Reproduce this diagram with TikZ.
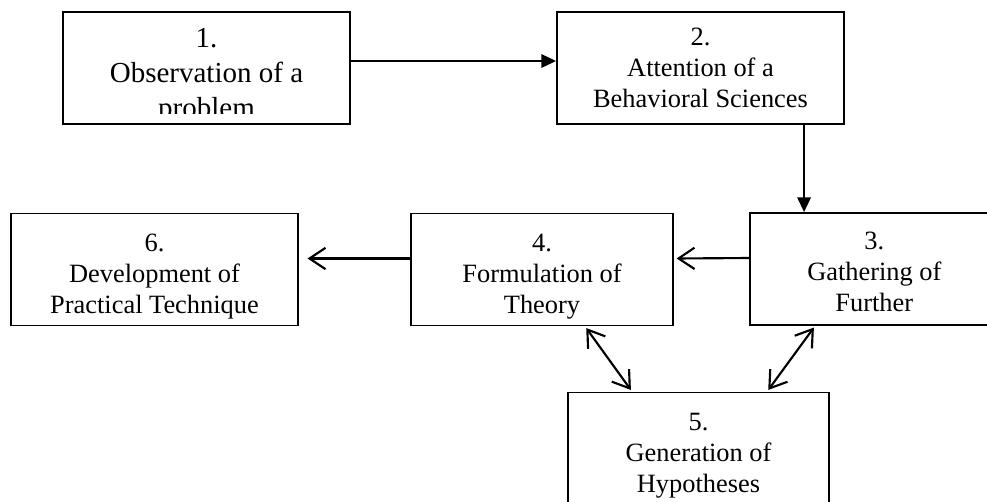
\documentclass[tikz,border=0pt]{standalone}
\usepackage{fontspec}
\setmainfont{Liberation Serif}
\usetikzlibrary{arrows.meta}

\begin{document}
\begin{tikzpicture}[x=0.75pt, y=-0.75pt,
    box/.style={draw, line width=1.4pt, minimum width=215.25pt, minimum height=84pt, inner sep=0pt},
    txt/.style={anchor=north, align=center, inner sep=0pt, font=\fontsize{19.8}{23.25}\selectfont},
    filledarrow/.style={line width=1.6pt, -{Triangle[length=11pt, width=10pt]}},
    openarrow/.style={line width=1.6pt, -{Straight Barb[length=12pt, width=16pt]}},
    twoarrow/.style={line width=1.6pt, {Straight Barb[length=12pt, width=16pt]}-{Straight Barb[length=12pt, width=16pt]}}]

    \clip (0,0) rectangle (987,501);

    \node[box] (b1) at (206.5,68) {};
    \node[box] (b2) at (700.5,68) {};
    \node[box, minimum width=196.5pt] (b3) at (881,269) {};
    \node[box, minimum width=196.5pt] (b4) at (542,269.5) {};
    \node[box] (b6) at (154.5,269.5) {};
    \node[box, minimum width=195.75pt] (b5) at (698.5,448.5) {};

    \begin{scope}
        \clip (b1.north west) rectangle ([yshift=8.25pt]b1.south east);
        \node[txt, font=\fontsize{21.75}{26.25}\selectfont] (t1) at ([yshift=-12.75pt]b1.north) {1.\\Observation of a\\problem};
    \end{scope}
    \node[txt] (t2) at ([yshift=-12.75pt]b2.north) {2.\\Attention of a\\Behavioral Sciences};
    \node[txt] (t3) at ([xshift=-5pt, yshift=-14.5pt]b3.north) {3.\\Gathering of\\Further};
    \node[txt] (t4) at ([yshift=-15.75pt]b4.north) {4.\\Formulation of\\Theory};
    \node[txt] (t6) at ([yshift=-15.75pt]b6.north) {6.\\Development of\\Practical Technique};
    \node[txt] (t5) at ([yshift=-15.75pt]b5.north) {5.\\Generation of\\Hypotheses};

    \coordinate (d3) at ([xshift=41.25pt]b3.north west);

    \draw[filledarrow] ([yshift=5.25pt]b1.east) -- ([yshift=5.25pt]b2.west);
    \draw[filledarrow] (b2.south -| d3) -- (d3);
    \draw[openarrow, shorten >=2pt] ([yshift=8.25pt]b3.west) -- ([yshift=8.25pt]b4.east);
    \draw[openarrow, shorten >=6.5pt] ([yshift=8.25pt]b4.west) -- ([yshift=8.25pt]b6.east);

    \draw[twoarrow, shorten <=1.5pt, shorten >=1.5pt] ([xshift=131.25pt]b4.south west) -- ([xshift=48.75pt]b5.north west);
    \draw[twoarrow, shorten <=1.5pt, shorten >=1.5pt] ([xshift=49.5pt]b3.south west) -- ([xshift=150pt]b5.north west);
\end{tikzpicture}
\end{document}
